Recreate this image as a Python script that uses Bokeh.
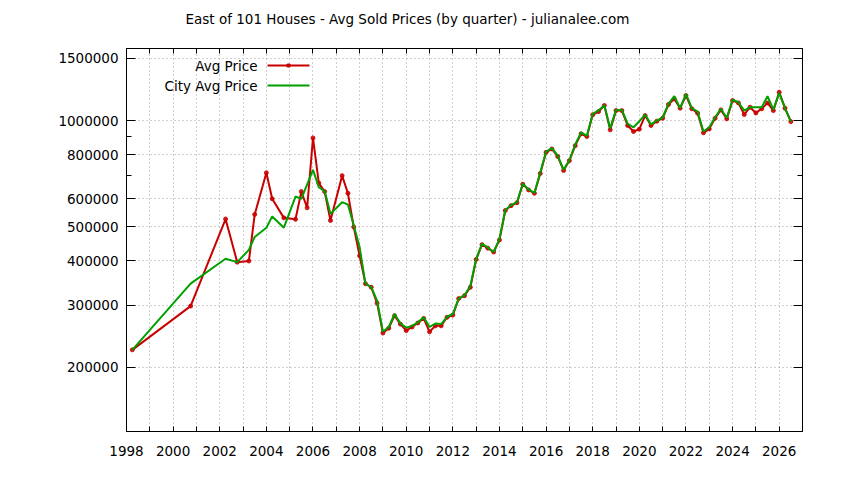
from bokeh.plotting import figure
from bokeh.models import (FixedTicker, LogAxis, LinearAxis, Range1d, Label, Arrow,
                          NumeralTickFormatter, ColumnDataSource, CustomLabelingPolicy)
from bokeh.embed import file_html
from bokeh.resources import INLINE

# ---------------- data ----------------
avg_quarters = [
    1998.25, 2000.75, 2002.25, 2002.75, 2003.25, 2003.5, 2004.0, 2004.25, 2004.75,
    2005.25, 2005.5, 2005.75, 2006.0, 2006.25, 2006.5, 2006.75, 2007.25, 2007.5,
    2007.75, 2008.0, 2008.25, 2008.5, 2008.75, 2009.0, 2009.25, 2009.5, 2009.75,
    2010.0, 2010.25, 2010.5, 2010.75, 2011.0, 2011.25, 2011.5, 2011.75, 2012.0,
    2012.25, 2012.5, 2012.75, 2013.0, 2013.25, 2013.5, 2013.75, 2014.0, 2014.25,
    2014.5, 2014.75, 2015.0, 2015.25, 2015.5, 2015.75, 2016.0, 2016.25, 2016.5,
    2016.75, 2017.0, 2017.25, 2017.5, 2017.75, 2018.0, 2018.25, 2018.5, 2018.75,
    2019.0, 2019.25, 2019.5, 2019.75, 2020.0, 2020.25, 2020.5, 2020.75, 2021.0,
    2021.25, 2021.5, 2021.75, 2022.0, 2022.25, 2022.5, 2022.75, 2023.0, 2023.25,
    2023.5, 2023.75, 2024.0, 2024.25, 2024.5, 2024.75, 2025.0, 2025.25, 2025.5,
    2025.75, 2026.0, 2026.25, 2026.5,
]
avg_price = [
    224000, 298000, 526000, 397000, 400000, 542000, 711000, 600000, 530000,
    525000, 629000, 566000, 893000, 665000, 629000, 521000, 698000, 622000,
    499000, 414000, 345000, 337000, 304000, 250000, 258000, 280000, 265000,
    254000, 260000, 267000, 275000, 252000, 262000, 262000, 277000, 281000,
    313000, 319000, 337000, 404000, 445000, 435000, 424000, 459000, 556000,
    574000, 585000, 660000, 636000, 622000, 708000, 813000, 831000, 791000,
    722000, 770000, 849000, 917000, 901000, 1038000, 1060000, 1103000, 941000,
    1067000, 1067000, 968000, 931000, 945000, 1033000, 968000, 996000, 1015000,
    1110000, 1152000, 1084000, 1177000, 1080000, 1049000, 923000, 947000, 1015000,
    1072000, 1011000, 1139000, 1122000, 1040000, 1091000, 1051000, 1080000, 1122000,
    1067000, 1203000, 1084000, 993000,
]

city_quarters = [
    1998.25, 2000.75, 2002.25, 2002.75, 2003.25, 2003.5, 2004.0, 2004.25, 2004.75,
    2005.25, 2005.5, 2006.0, 2006.25, 2006.5, 2006.75, 2007.25, 2007.5,
    2007.75, 2008.0, 2008.25, 2008.5, 2008.75, 2009.0, 2009.25, 2009.5, 2009.75,
    2010.0, 2010.25, 2010.5, 2010.75, 2011.0, 2011.25, 2011.5, 2011.75, 2012.0,
    2012.25, 2012.5, 2012.75, 2013.0, 2013.25, 2013.5, 2013.75, 2014.0, 2014.25,
    2014.5, 2014.75, 2015.0, 2015.25, 2015.5, 2015.75, 2016.0, 2016.25, 2016.5,
    2016.75, 2017.0, 2017.25, 2017.5, 2017.75, 2018.0, 2018.25, 2018.5, 2018.75,
    2019.0, 2019.25, 2019.5, 2019.75, 2020.0, 2020.25, 2020.5, 2020.75, 2021.0,
    2021.25, 2021.5, 2021.75, 2022.0, 2022.25, 2022.5, 2022.75, 2023.0, 2023.25,
    2023.5, 2023.75, 2024.0, 2024.25, 2024.5, 2024.75, 2025.0, 2025.25, 2025.5,
    2025.75, 2026.0, 2026.25, 2026.5,
]
city_avg_price = [
    224000, 345000, 406000, 397000, 430000, 468000, 497000, 535000, 497000,
    609000, 600000, 725000, 647000, 631000, 544000, 587000, 578000,
    504000, 438000, 345000, 337000, 309000, 252000, 260000, 283000, 266000,
    259000, 262000, 268000, 277000, 260000, 266000, 265000, 278000, 283000,
    313000, 320000, 340000, 405000, 447000, 437000, 424000, 462000, 558000,
    576000, 587000, 662000, 638000, 624000, 712000, 817000, 836000, 795000,
    725000, 773000, 855000, 925000, 905000, 1045000, 1068000, 1105000, 950000,
    1072000, 1072000, 978000, 957000, 995000, 1040000, 975000, 1000000, 1020000,
    1115000, 1172000, 1084000, 1190000, 1084000, 1060000, 931000, 957000, 1022000,
    1080000, 1017000, 1146000, 1127000, 1067000, 1091000, 1091000, 1091000, 1172000,
    1074000, 1196000, 1084000, 993000,
]

x_label_years = list(range(1998, 2028, 2))
x_minor_years = list(range(1999, 2028, 2))
y_ticks = [200000, 300000, 400000, 500000, 600000, 800000, 1000000, 1500000]
y_minor_ticks = [700000, 900000]

title_text = "East of 101 Houses - Avg Sold Prices (by quarter) - julianalee.com"
series_labels = ["Avg Price", "City Avg Price"]

# ---------------- styling ----------------
FONT = "DejaVu Sans"
FS = "13.5px"
RED = "#c80000"
GREEN = "#00a000"
GRID = "#a0a0a0"

p = figure(width=844, height=480,
           x_range=Range1d(1998, 2027), y_range=Range1d(131500, 1600000),
           y_axis_type="log", output_backend="svg", toolbar_location=None,
           min_border_left=126, min_border_right=42,
           min_border_top=48, min_border_bottom=49)
p.title.visible = False

p.outline_line_color = "black"
p.outline_line_width = 1
p.background_fill_color = "white"
p.border_fill_color = "white"

xticker = FixedTicker(ticks=x_label_years, minor_ticks=x_minor_years)
yticker = FixedTicker(ticks=y_ticks, minor_ticks=y_minor_ticks)

def hide_labels(ax):
    ax.major_label_text_font_size = "0px"
    ax.major_label_standoff = 0
    ax.major_label_policy = CustomLabelingPolicy(code="return new Set()")

def style_x(ax, labels=True):
    ax.ticker = xticker
    ax.axis_line_color = "black"
    ax.major_tick_in = 5
    ax.major_tick_out = 0
    ax.minor_tick_in = 5
    ax.minor_tick_out = 0
    ax.major_tick_line_color = "black"
    ax.minor_tick_line_color = "black"
    ax.major_label_text_font = FONT
    ax.major_label_text_font_size = FS
    ax.major_label_text_color = "black"
    ax.major_label_standoff = 14
    if not labels:
        hide_labels(ax)

def style_y(ax, labels=True):
    ax.ticker = yticker
    ax.formatter = NumeralTickFormatter(format="0")
    ax.axis_line_color = "black"
    ax.major_tick_in = 9
    ax.major_tick_out = 0
    ax.minor_tick_in = 5
    ax.minor_tick_out = 0
    ax.major_tick_line_color = "black"
    ax.minor_tick_line_color = "black"
    ax.major_label_text_font = FONT
    ax.major_label_text_font_size = FS
    ax.major_label_text_color = "black"
    ax.major_label_standoff = 8
    if not labels:
        hide_labels(ax)

style_x(p.xaxis[0])
style_y(p.yaxis[0])

top_axis = LinearAxis()
style_x(top_axis, labels=False)
p.add_layout(top_axis, "above")
right_axis = LogAxis()
style_y(right_axis, labels=False)
p.add_layout(right_axis, "right")

p.xgrid.ticker = xticker
p.ygrid.ticker = yticker
for g in (p.xgrid[0], p.ygrid[0]):
    g.grid_line_color = GRID
    g.grid_line_dash = "1 3"
    g.grid_line_width = 1
p.xgrid.minor_grid_line_color = GRID
p.xgrid.minor_grid_line_dash = "1 3"

# ---------------- series ----------------
src_avg = ColumnDataSource(dict(x=avg_quarters, y=avg_price))
src_city = ColumnDataSource(dict(x=city_quarters, y=city_avg_price))
p.line("x", "y", source=src_avg, line_color=RED, line_width=2)
p.scatter("x", "y", source=src_avg, size=4, color=RED, alpha=0.85)
p.line("x", "y", source=src_city, line_color=GREEN, line_width=2)

# ---------------- title (label in the panel above the frame) ----------------
p.add_layout(Label(x=59, y=30, x_units="screen", y_units="screen",
                   text=title_text, text_align="left", text_baseline="middle",
                   text_font=FONT, text_font_size=FS, text_color="black"), "above")

# ---------------- legend (gnuplot style: text, then sample) ----------------
leg_text_x = 131
leg_line_x0, leg_line_x1 = 141, 183
leg_rows = [366, 346]
for lab, yy, col, marker in zip(series_labels, leg_rows, [RED, GREEN], [True, False]):
    p.add_layout(Label(x=leg_text_x, y=yy, x_units="screen", y_units="screen",
                       text=lab, text_align="right", text_baseline="middle",
                       text_font=FONT, text_font_size=FS, text_color="black"))
    p.add_layout(Arrow(x_start=leg_line_x0, y_start=yy, x_end=leg_line_x1, y_end=yy,
                       start_units="screen", end_units="screen", end=None,
                       line_color=col, line_width=2))
    if marker:
        mx = (leg_line_x0 + leg_line_x1) / 2
        p.add_layout(Arrow(x_start=mx - 0.5, y_start=yy, x_end=mx + 0.5, y_end=yy,
                           start_units="screen", end_units="screen", end=None,
                           line_color=col, line_width=4, line_cap="round"))

open("out.html", "w").write(file_html(p, INLINE))
